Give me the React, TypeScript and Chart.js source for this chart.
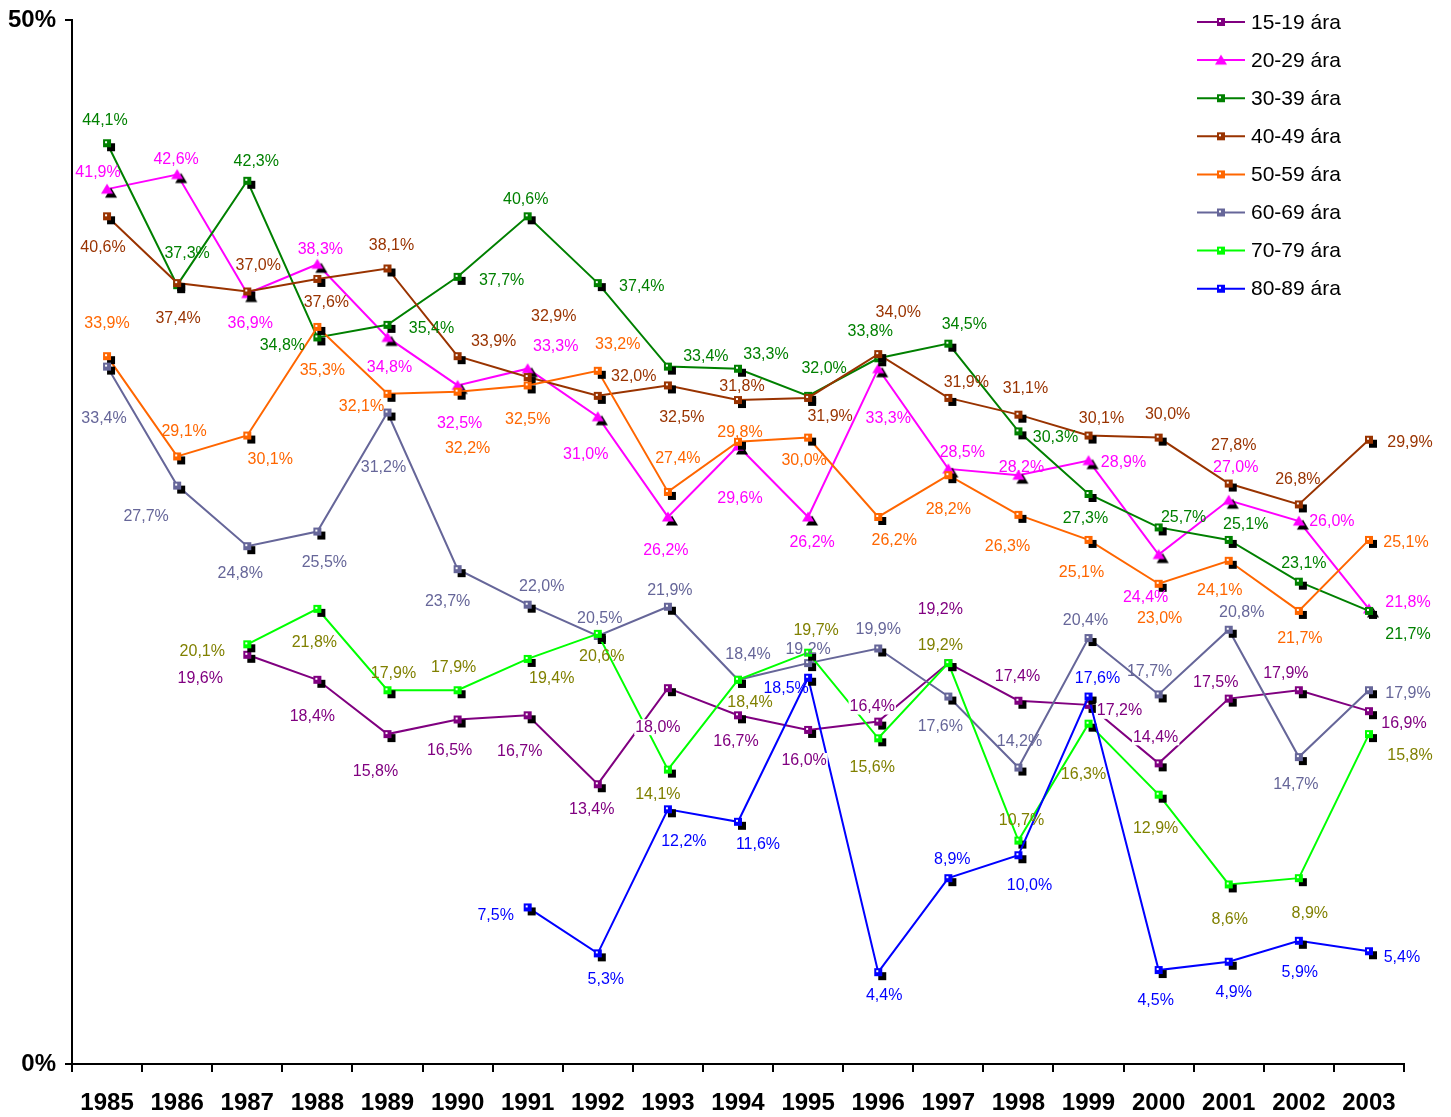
import React, { useEffect, useRef } from 'react';
import { Chart, registerables } from 'chart.js';

Chart.register(...registerables);

const YEARS = ['1985', '1986', '1987', '1988', '1989', '1990', '1991', '1992', '1993', '1994', '1995', '1996', '1997', '1998', '1999', '2000', '2001', '2002', '2003'];

const SERIES_NAMES = ['15-19 ára', '20-29 ára', '30-39 ára', '40-49 ára', '50-59 ára', '60-69 ára', '70-79 ára', '80-89 ára'];

const AGE_15_19 = [null, null, 19.6, 18.4, 15.8, 16.5, 16.7, 13.4, 18.0, 16.7, 16.0, 16.4, 19.2, 17.4, 17.2, 14.4, 17.5, 17.9, 16.9];
const AGE_20_29 = [41.9, 42.6, 36.9, 38.3, 34.8, 32.5, 33.3, 31.0, 26.2, 29.6, 26.2, 33.3, 28.5, 28.2, 28.9, 24.4, 27.0, 26.0, 21.8];
const AGE_30_39 = [44.1, 37.3, 42.3, 34.8, 35.4, 37.7, 40.6, 37.4, 33.4, 33.3, 32.0, 33.8, 34.5, 30.3, 27.3, 25.7, 25.1, 23.1, 21.7];
const AGE_40_49 = [40.6, 37.4, 37.0, 37.6, 38.1, 33.9, 32.9, 32.0, 32.5, 31.8, 31.9, 34.0, 31.9, 31.1, 30.1, 30.0, 27.8, 26.8, 29.9];
const AGE_50_59 = [33.9, 29.1, 30.1, 35.3, 32.1, 32.2, 32.5, 33.2, 27.4, 29.8, 30.0, 26.2, 28.2, 26.3, 25.1, 23.0, 24.1, 21.7, 25.1];
const AGE_60_69 = [33.4, 27.7, 24.8, 25.5, 31.2, 23.7, 22.0, 20.5, 21.9, 18.4, 19.2, 19.9, 17.6, 14.2, 20.4, 17.7, 20.8, 14.7, 17.9];
const AGE_70_79 = [null, null, 20.1, 21.8, 17.9, 17.9, 19.4, 20.6, 14.1, 18.4, 19.7, 15.6, 19.2, 10.7, 16.3, 12.9, 8.6, 8.9, 15.8];
const AGE_80_89 = [null, null, null, null, null, null, 7.5, 5.3, 12.2, 11.6, 18.5, 4.4, 8.9, 10.0, 17.6, 4.5, 4.9, 5.9, 5.4];

const SERIES_VALUES = [AGE_15_19, AGE_20_29, AGE_30_39, AGE_40_49, AGE_50_59, AGE_60_69, AGE_70_79, AGE_80_89];

const Y_MIN = 0;
const Y_MAX = 50;

const LINE_COLORS = ['#800080', '#FF00FF', '#008000', '#993300', '#FF6600', '#666699', '#00FF00', '#0000FF'];
const LABEL_COLORS = ['#800080', '#FF00FF', '#008000', '#993300', '#FF6600', '#666699', '#808000', '#0000FF'];
const MARKER_SHAPES = ['square', 'triangle', 'square', 'square', 'square', 'square', 'square', 'square'];

// data-label placement relative to each point (pixels)
const LABEL_OFFSETS_15_19 = [[0, 0], [0, 0], [-47, 24], [-5, 37], [-12, 37], [-8, 31], [-8, 36], [-6, 25], [-10, 39], [-2, 26], [-4, 31], [-6, -15], [-8, -54], [-1, -24], [31, 6], [-3, -26], [-13, -16], [-13, -17], [35, 12]];
const LABEL_OFFSETS_20_29 = [[-9, -17], [-1, -15], [3, 30], [3, -15], [2, 30], [2, 38], [28, -22], [-12, 38], [-2, 34], [2, 53], [4, 26], [10, 50], [14, -16], [3, -8], [35, 2], [-13, 43], [7, -33], [33, 0], [39, -6]];
const LABEL_OFFSETS_30_39 = [[-2, -23], [10, -32], [9, -19], [-35, 8], [44, 4], [44, 4], [-2, -17], [44, 4], [38, -10], [28, -14], [16, -27], [-8, -27], [16, -19], [37, 6], [-3, 25], [25, -10], [17, -15], [5, -18], [39, 24]];
const LABEL_OFFSETS_40_49 = [[-4, 31], [1, 36], [11, -26], [9, 24], [4, -23], [36, -15], [26, -60], [36, -19], [14, 32], [4, -13], [22, 19], [20, -41], [18, -15], [7, -26], [13, -17], [9, -23], [5, -38], [-1, -25], [41, 3]];
const LABEL_OFFSETS_50_59 = [[0, -33], [7, -25], [23, 24], [5, 44], [-26, 13], [10, 57], [0, 34], [20, -26], [10, -33], [2, -9], [-4, 23], [16, 24], [0, 34], [-11, 32], [-7, 33], [1, 35], [-9, 30], [1, 28], [37, 3]];
const LABEL_OFFSETS_60_69 = [[-3, 52], [-31, 31], [-7, 27], [7, 31], [-4, 55], [-10, 32], [14, -18], [2, -17], [2, -16], [10, -25], [0, -14], [0, -19], [-8, 30], [1, -26], [-3, -17], [-9, -23], [13, -17], [-3, 28], [39, 3]];
const LABEL_OFFSETS_70_79 = [[0, 0], [0, 0], [-45, 7], [-3, 34], [6, -17], [-4, -23], [24, 20], [4, 23], [-10, 25], [12, 23], [8, -22], [-6, 29], [-8, -18], [3, -20], [-5, 51], [-3, 34], [1, 35], [11, 35], [41, 21]];
const LABEL_OFFSETS_80_89 = [[0, 0], [0, 0], [0, 0], [0, 0], [0, 0], [0, 0], [-32, 8], [8, 26], [16, 32], [20, 23], [-22, 11], [6, 23], [4, -19], [11, 30], [9, -18], [-3, 31], [5, 31], [1, 32], [33, 6]];
const LABEL_OFFSETS = [LABEL_OFFSETS_15_19, LABEL_OFFSETS_20_29, LABEL_OFFSETS_30_39, LABEL_OFFSETS_40_49, LABEL_OFFSETS_50_59, LABEL_OFFSETS_60_69, LABEL_OFFSETS_70_79, LABEL_OFFSETS_80_89];
const LABEL_WHITE_BG = [true, false, false, false, false, false, false, false];

const FONT = '"Liberation Sans", Arial, Helvetica, sans-serif';

function fmt(v: number): string {
  return v.toFixed(1).replace('.', ',') + '%';
}

function drawShape(ctx: CanvasRenderingContext2D, shape: string, cx: number, cy: number, fill: string, highlight: boolean) {
  ctx.beginPath();
  if (shape === 'triangle') {
    ctx.moveTo(cx, cy - 5.5);
    ctx.lineTo(cx + 6, cy + 4.5);
    ctx.lineTo(cx - 6, cy + 4.5);
    ctx.closePath();
    ctx.fillStyle = fill;
    ctx.fill();
  } else {
    ctx.rect(cx - 4, cy - 4, 8, 8);
    ctx.fillStyle = fill;
    ctx.fill();
    if (highlight) {
      ctx.fillStyle = '#ffffff';
      ctx.fillRect(cx - 2, cy - 2, 2, 2);
    }
  }
}

function makeMarker(color: string, shape: string, shadow: boolean): HTMLCanvasElement {
  const c = document.createElement('canvas');
  c.width = 24;
  c.height = 24;
  const ctx = c.getContext('2d')!;
  if (shadow) drawShape(ctx, shape, 16, 16, '#000000', false);
  drawShape(ctx, shape, 12, 12, color, shape === 'square');
  return c;
}

export default function App() {
  const canvasRef = useRef<HTMLCanvasElement | null>(null);

  useEffect(() => {
    if (!canvasRef.current) return;
    const markers = LINE_COLORS.map((c, i) => makeMarker(c, MARKER_SHAPES[i], true));
    const legendMarkers = LINE_COLORS.map((c, i) => makeMarker(c, MARKER_SHAPES[i], false));

    const labelPlugin = {
      id: 'valueLabels',
      afterDatasetsDraw(chart: any) {
        const ctx = chart.ctx;
        ctx.save();
        ctx.font = `16px ${FONT}`;
        ctx.textAlign = 'center';
        ctx.textBaseline = 'middle';
        const order = [1, 2, 3, 4, 5, 6, 7, 0];
        order.forEach((di) => {
          const meta = chart.getDatasetMeta(di);
          const vals = SERIES_VALUES[di];
          meta.data.forEach((pt: any, i: number) => {
            const v = vals[i];
            if (v === null || v === undefined) return;
            const [dx, dy] = LABEL_OFFSETS[di][i];
            const x = pt.x + dx;
            const y = pt.y + dy;
            const t = fmt(v);
            if (LABEL_WHITE_BG[di]) {
              const w = ctx.measureText(t).width;
              ctx.fillStyle = '#ffffff';
              ctx.fillRect(x - w / 2 - 1, y - 8, w + 2, 16);
            }
            ctx.fillStyle = LABEL_COLORS[di];
            ctx.fillText(t, x, y);
          });
        });
        ctx.restore();
      },
    };

    const legendPlugin = {
      id: 'customLegend',
      afterDraw(chart: any) {
        const ctx = chart.ctx;
        ctx.save();
        ctx.font = `21px ${FONT}`;
        ctx.textAlign = 'left';
        ctx.textBaseline = 'middle';
        SERIES_NAMES.forEach((name, i) => {
          const y = 22 + i * 38.1;
          ctx.strokeStyle = LINE_COLORS[i];
          ctx.lineWidth = 2;
          ctx.beginPath();
          ctx.moveTo(1197, y);
          ctx.lineTo(1245, y);
          ctx.stroke();
          ctx.drawImage(legendMarkers[i], 1221 - 12, y - 12);
          ctx.fillStyle = '#000000';
          ctx.fillText(name, 1251, y + 1);
        });
        ctx.restore();
      },
    };

    const chart = new Chart(canvasRef.current, {
      type: 'line',
      data: {
        labels: YEARS,
        datasets: SERIES_VALUES.map((vals, i) => ({
          label: SERIES_NAMES[i],
          data: vals,
          borderColor: LINE_COLORS[i],
          backgroundColor: LINE_COLORS[i],
          borderWidth: 2,
          pointStyle: markers[i] as any,
          pointRadius: 5,
          pointHoverRadius: 5,
          tension: 0,
          fill: false,
          spanGaps: false,
          order: 10 - i,
          clip: false as any,
        })),
      },
      options: {
        animation: false,
        responsive: false,
        maintainAspectRatio: false,
        events: [],
        layout: { padding: { top: 20, right: 47, left: 0, bottom: 0 } },
        plugins: {
          legend: { display: false },
          tooltip: { enabled: false },
          title: { display: false },
        },
        scales: {
          x: {
            type: 'category',
            offset: true,
            grid: {
              display: true,
              drawOnChartArea: false,
              drawTicks: true,
              tickLength: 8,
              color: '#000000',
              lineWidth: 2,
              offset: true,
            },
            border: { display: true, color: '#000000', width: 2 },
            ticks: {
              color: '#000000',
              font: { family: FONT, size: 24, weight: 'bold' },
              padding: 17,
              maxRotation: 0,
              autoSkip: false,
            },
            afterFit(scale: any) {
              scale.height = 53;
              scale.paddingLeft = 0;
              scale.paddingRight = 0;
            },
          },
          y: {
            min: Y_MIN,
            max: Y_MAX,
            grid: {
              display: true,
              drawOnChartArea: false,
              drawTicks: true,
              tickLength: 7,
              color: '#000000',
              lineWidth: 2,
            },
            border: { display: true, color: '#000000', width: 2 },
            ticks: {
              stepSize: Y_MAX - Y_MIN,
              color: '#000000',
              font: { family: FONT, size: 24, weight: 'bold' },
              padding: 9,
              callback: (v: any) => `${v}%`,
            },
            afterFit(scale: any) {
              scale.width = 72;
              scale.paddingTop = 0;
              scale.paddingBottom = 0;
            },
          },
        },
      } as any,
      plugins: [labelPlugin, legendPlugin],
    });
    return () => chart.destroy();
  }, []);

  return (
    <div style={{ position: 'absolute', left: 0, top: 0, width: 1451, height: 1117, background: '#ffffff' }}>
      <canvas ref={canvasRef} width={1451} height={1117} style={{ display: 'block', width: 1451, height: 1117 }} />
    </div>
  );
}
